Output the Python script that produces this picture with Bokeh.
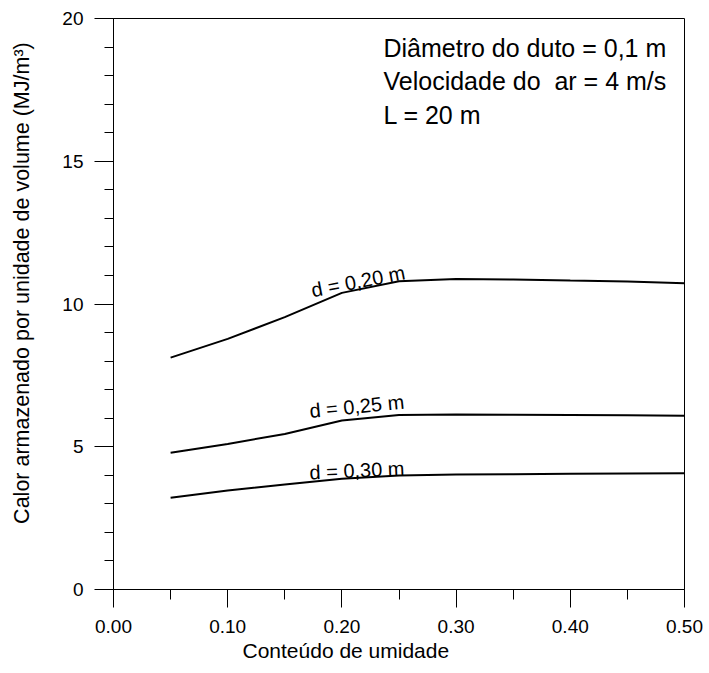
from bokeh.plotting import figure
from bokeh.models import Range1d, FixedTicker, PrintfTickFormatter, Title
from bokeh.core.properties import value
from bokeh.embed import file_html
from bokeh.resources import INLINE

# Data
umidade = [0.05, 0.10, 0.15, 0.20, 0.25, 0.30, 0.35, 0.40, 0.45, 0.50]
calor_d020 = [8.12, 8.78, 9.54, 10.39, 10.80, 10.88, 10.86, 10.82, 10.79, 10.73]
calor_d025 = [4.79, 5.10, 5.45, 5.92, 6.11, 6.13, 6.12, 6.11, 6.10, 6.09]
calor_d030 = [3.21, 3.47, 3.68, 3.88, 3.99, 4.03, 4.04, 4.05, 4.06, 4.07]

curve_labels = ["d = 0,20 m", "d = 0,25 m", "d = 0,30 m"]
label_x = [0.1734, 0.1716, 0.1716]
label_y = [10.48, 6.25, 4.10]
label_angle = [0.19, 0.10, 0.045]

info_lines = ["Diâmetro do duto = 0,1 m", "Velocidade do\u00a0 ar = 4 m/s", "L = 20 m"]
info_x = [0.2364, 0.2364, 0.2364]
info_y = [18.95, 17.80, 16.61]

x_ticks = [0.0, 0.1, 0.2, 0.3, 0.4, 0.5]
x_minor = [round(0.05 * i, 2) for i in range(11)]
y_ticks = [0, 5, 10, 15, 20]
y_minor = list(range(21))

x_title = "Conteúdo de umidade"
y_title = "Calor armazenado por unidade de volume (MJ/m³)"

FONT = "Liberation Sans"

p = figure(width=709, height=673, output_backend="svg", toolbar_location=None,
           x_range=Range1d(0, 0.5), y_range=Range1d(0, 20),
           frame_width=571, frame_height=571,
           min_border_left=113, min_border_right=25, min_border_top=18, min_border_bottom=84)

p.background_fill_color = "white"
p.border_fill_color = "white"
p.outline_line_color = "black"
p.outline_line_width = 1
p.xgrid.visible = False
p.ygrid.visible = False

for ys in (calor_d020, calor_d025, calor_d030):
    p.line(umidade, ys, line_color="black", line_width=2)

p.text(x=label_x, y=label_y, text=curve_labels, angle=label_angle,
       text_font=value(FONT), text_font_size="20px", text_color="black",
       text_align="left", text_baseline="alphabetic")

p.text(x=info_x, y=info_y, text=info_lines,
       text_font=value(FONT), text_font_size="25px", text_color="black",
       text_align="left", text_baseline="alphabetic")

xa = p.xaxis[0]
xa.ticker = FixedTicker(ticks=x_ticks, minor_ticks=x_minor)
xa.formatter = PrintfTickFormatter(format="%.2f")
ya = p.yaxis[0]
ya.ticker = FixedTicker(ticks=y_ticks, minor_ticks=y_minor)
# leading no-break spaces lift the title slightly above the frame centre, as in the reference
ya.axis_label = "\u00a0" * 7 + y_title

for ax in (xa, ya):
    ax.axis_line_color = "black"
    ax.axis_line_width = 1
    ax.major_tick_line_color = "black"
    ax.minor_tick_line_color = "black"
    ax.major_tick_in = 0
    ax.minor_tick_in = 0
    ax.major_label_text_font = FONT
    ax.major_label_text_font_size = "19px"
    ax.major_label_text_color = "black"

ya.axis_label_text_font = FONT
ya.axis_label_text_font_size = "21.5px"
ya.axis_label_text_font_style = "normal"
ya.axis_label_text_color = "black"
ya.axis_label_standoff = 25

xa.major_tick_out = 18
xa.minor_tick_out = 10
xa.major_label_standoff = 12
ya.major_tick_out = 19
ya.minor_tick_out = 9
ya.major_label_standoff = 11
ya.major_label_orientation = "horizontal"

# x-axis title placed as in the reference (left of the frame centre)
p.add_layout(Title(text=x_title, align="left", offset=129, standoff=2,
                   text_font=FONT, text_font_size="21px", text_font_style="normal",
                   text_color="black"), "below")

open("out.html", "w").write(file_html(p, INLINE))
